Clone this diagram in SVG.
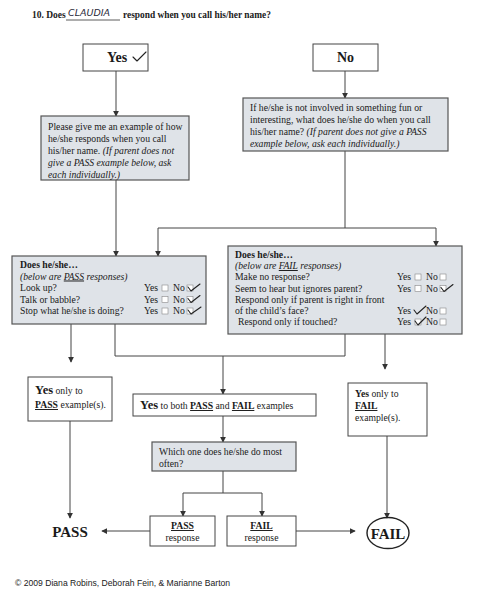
<svg xmlns="http://www.w3.org/2000/svg" width="500" height="600" viewBox="0 0 500 600">
<defs>
<marker id="ah" viewBox="0 0 8 8" refX="7" refY="4" markerWidth="6" markerHeight="6" orient="auto" markerUnits="userSpaceOnUse">
<path d="M0,0 L8,4 L0,8 z" fill="#333"/>
</marker>
<style>
text{font-family:"Liberation Serif","Times New Roman",serif;fill:#1a1a1a;font-size:9.7px}
.b{font-weight:bold}
.i{font-style:italic}
.u{text-decoration:underline}
.box{fill:#fff;stroke:#444;stroke-width:1}
.gbox{fill:#dfe3e8;stroke:#555;stroke-width:1.2}
.cn{fill:none;stroke:#444;stroke-width:1}
.ca{fill:none;stroke:#444;stroke-width:1;marker-end:url(#ah)}
.cb{fill:#fff;stroke:#888;stroke-width:0.6}
.ck{fill:none;stroke:#222;stroke-width:1.1;stroke-linecap:round;stroke-linejoin:round}
</style>
</defs>
<rect width="500" height="600" fill="#fff"/>

<g id="title">
<text x="32" y="18" class="b" style="font-size:9.5px">10. Does</text>
<text x="68" y="16" style="font-family:'DejaVu Sans',sans-serif;font-size:9.5px;font-style:italic;fill:#2a2a3a">CLAUDIA</text>
<line x1="66" y1="20" x2="120" y2="20" stroke="#333" stroke-width="0.8"/>
<text x="123" y="18" class="b" style="font-size:9.4px">respond when you call his/her name?</text>
</g>

<g id="connectors">
<line class="ca" x1="116" y1="71" x2="116" y2="116"/>
<line class="ca" x1="345" y1="71" x2="345" y2="98"/>
<line class="ca" x1="116" y1="180" x2="116" y2="256"/>
<polyline class="cn" points="345,151 345,228"/>
<line class="cn" x1="158" y1="228" x2="436" y2="228"/>
<line class="ca" x1="158" y1="228" x2="158" y2="256"/>
<line class="ca" x1="436" y1="228" x2="436" y2="246"/>
<line class="ca" x1="71" y1="324" x2="71" y2="362"/>
<polyline class="cn" points="115,324 115,356 345,356 345,334"/>
<line class="ca" x1="223" y1="356" x2="223" y2="394"/>
<line class="ca" x1="385" y1="334" x2="385" y2="369"/>
<line class="ca" x1="223" y1="416" x2="223" y2="442"/>
<line class="cn" x1="223" y1="471" x2="223" y2="493"/>
<line class="cn" x1="183" y1="493" x2="262" y2="493"/>
<line class="ca" x1="183" y1="493" x2="183" y2="516"/>
<line class="ca" x1="262" y1="493" x2="262" y2="516"/>
<line class="ca" x1="150" y1="531" x2="102" y2="531"/>
<line class="ca" x1="296" y1="531" x2="355" y2="531"/>
<line class="ca" x1="70" y1="421" x2="70" y2="518"/>
<line class="ca" x1="387" y1="436" x2="387" y2="518"/>
</g>

<g id="yes">
<rect class="box" x="83" y="44" width="65" height="27"/>
<text x="107" y="62" class="b" style="font-size:14px">Yes</text>
<path class="ck" d="M133,57 L137,61 L146,52"/>
</g>

<g id="no">
<rect class="box" x="313" y="44" width="65" height="27"/>
<text x="345.5" y="62" class="b" text-anchor="middle" style="font-size:14px">No</text>
</g>

<g id="askExample">
<rect class="gbox" x="41" y="116" width="148" height="64"/>
<text x="48" y="129.5">Please give me an example of how</text>
<text x="48" y="141.5">he/she responds when you call</text>
<text x="48" y="153.5">his/her name. <tspan class="i">(If parent does not</tspan></text>
<text x="48" y="165.5" class="i">give a PASS example below, ask</text>
<text x="48" y="177.5" class="i">each individually.)</text>
</g>

<g id="notInvolved">
<rect class="gbox" x="243" y="98" width="205" height="53"/>
<text x="250" y="110.5">If he/she is not involved in something fun or</text>
<text x="250" y="122.5">interesting, what does he/she do when you call</text>
<text x="250" y="134.5">his/her name? <tspan class="i">(If parent does not give a PASS</tspan></text>
<text x="250" y="146.5" class="i">example below, ask each individually.)</text>
</g>

<g id="passResponses">
<rect class="gbox" x="12" y="256" width="194" height="68"/>
<text x="20" y="268" class="b">Does he/she…</text>
<text x="20" y="279.5" class="i">(below are <tspan class="u">PASS</tspan> responses)</text>
<text x="20" y="291">Look up?</text>
<text x="20" y="302.5">Talk or babble?</text>
<text x="20" y="314">Stop what he/she is doing?</text>
<text x="144" y="291">Yes</text><rect class="cb" x="162" y="285" width="6" height="6"/>
<text x="173" y="291">No</text><rect class="cb" x="187" y="285" width="6" height="6"/>
<path class="ck" d="M188,287 L191,291 L200,284"/>
<text x="144" y="302.5">Yes</text><rect class="cb" x="162" y="296.5" width="6" height="6"/>
<text x="173" y="302.5">No</text><rect class="cb" x="187" y="296.5" width="6" height="6"/>
<path class="ck" d="M188,298.5 L191,302.5 L200,295.5"/>
<text x="144" y="314">Yes</text><rect class="cb" x="162" y="308" width="6" height="6"/>
<text x="173" y="314">No</text><rect class="cb" x="187" y="308" width="6" height="6"/>
<path class="ck" d="M188,310 L191,314 L201,307"/>
</g>

<g id="failResponses">
<rect class="gbox" x="228" y="246" width="234" height="88"/>
<text x="235" y="258" class="b">Does he/she…</text>
<text x="235" y="269" class="i">(below are <tspan class="u">FAIL</tspan> responses)</text>
<text x="235" y="280">Make no response?</text>
<text x="235" y="291.5">Seem to hear but ignores parent?</text>
<text x="235" y="303">Respond only if parent is right in front</text>
<text x="235" y="314">of the child’s face?</text>
<text x="238" y="325">Respond only if touched?</text>
<text x="397" y="280">Yes</text><rect class="cb" x="415" y="274" width="6" height="6"/>
<text x="426" y="280">No</text><rect class="cb" x="440" y="274" width="6" height="6"/>
<text x="397" y="291.5">Yes</text><rect class="cb" x="415" y="285.5" width="6" height="6"/>
<text x="426" y="291.5">No</text><rect class="cb" x="440" y="285.5" width="6" height="6"/>
<path class="ck" d="M441,287.5 L444,291.5 L453,284.5"/>
<text x="397" y="314">Yes</text>
<path class="ck" d="M414,310 L417,314 L426,306"/>
<text x="426" y="314">No</text><rect class="cb" x="440" y="308" width="6" height="6"/>
<text x="397" y="325">Yes</text><rect class="cb" x="415" y="319" width="6" height="6"/>
<path class="ck" d="M415,321 L418,325 L426,317"/>
<text x="426" y="325">No</text><rect class="cb" x="440" y="319" width="6" height="6"/>
</g>

<g id="yesOnlyPass">
<rect class="box" x="28" y="377" width="84" height="44"/>
<text x="35" y="394"><tspan class="b" style="font-size:12.5px">Yes</tspan> only to</text>
<text x="35" y="408"><tspan class="b u">PASS</tspan> example(s).</text>
</g>

<g id="yesBoth">
<rect class="box" x="133" y="394" width="183" height="22"/>
<text x="140" y="409"><tspan class="b" style="font-size:12.5px">Yes</tspan> to both <tspan class="b u">PASS</tspan> and <tspan class="b u">FAIL</tspan> examples</text>
</g>

<g id="yesOnlyFail">
<rect class="box" x="348" y="383" width="79" height="53"/>
<text x="355" y="397"><tspan class="b">Yes</tspan> only to</text>
<text x="355" y="409" class="b u">FAIL</text>
<text x="355" y="421">example(s).</text>
</g>

<g id="whichOne">
<rect class="gbox" x="152" y="442" width="144" height="29"/>
<text x="159" y="454.5">Which one does he/she do most</text>
<text x="159" y="466.5">often?</text>
</g>

<g id="passResponse">
<rect class="box" x="150" y="516" width="65" height="30"/>
<text x="182.5" y="529" text-anchor="middle" class="b u">PASS</text>
<text x="182.5" y="541" text-anchor="middle">response</text>
</g>

<g id="failResponse">
<rect class="box" x="227" y="516" width="69" height="30"/>
<text x="261.5" y="529" text-anchor="middle" class="b u">FAIL</text>
<text x="261.5" y="541" text-anchor="middle">response</text>
</g>

<g id="pass">
<text x="70" y="537" text-anchor="middle" class="b" style="font-size:15px">PASS</text>
</g>

<g id="fail">
<ellipse cx="388" cy="533" rx="21" ry="15.5" fill="none" stroke="#222" stroke-width="1.4"/>
<text x="388" y="538.5" text-anchor="middle" class="b" style="font-size:15px">FAIL</text>
</g>

<g id="copyright">
<text x="15" y="586" style="font-family:'Liberation Sans',Arial,sans-serif;font-size:8.6px">©  2009 Diana Robins, Deborah Fein, &amp; Marianne Barton</text>
</g>
</svg>
